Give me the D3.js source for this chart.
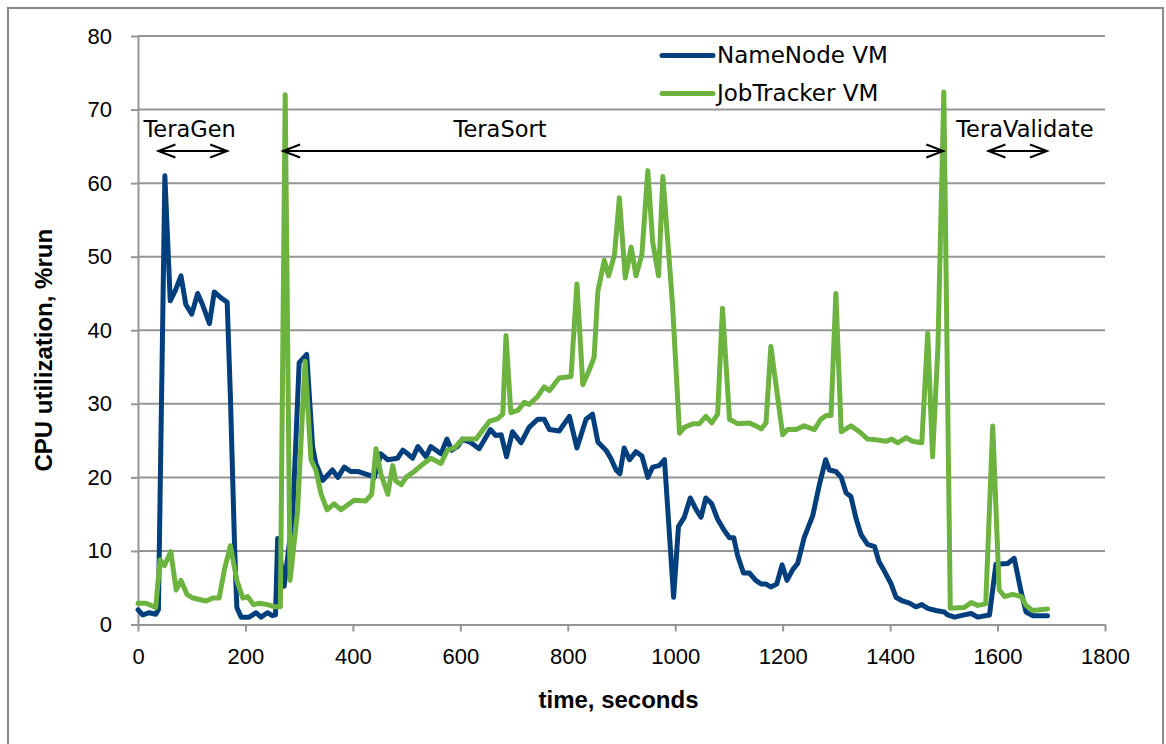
<!DOCTYPE html>
<html>
<head>
<meta charset="utf-8">
<script src="https://cdn.jsdelivr.net/npm/d3@7"></script>
<style>
  body { margin: 0; background: #fff; }
  svg { display: block; }
</style>
</head>
<body>
<svg id="chart" width="1166" height="744"></svg>
<script>
// data: [seconds, cpu %]
var nameNode = [
  [0,2.0],[9,1.3],[21,1.6],[33,1.4],[38,2],[50,61],[60,44],[70,45.5],[80,47.4],[89,43.5],
  [100,42.2],[111,45],[120,43.5],[133,40.9],[142,45.2],[153,44.5],[166,43.8],[172,31],[180,10],[184,2.3],
  [192,1.0],[207,1.0],[220,1.6],[229,1.0],[241,1.6],[250,1.2],[256,1.3],[260,11.7],[272,5.2],[288,14.8],
  [300,35.6],[314,36.7],[325,24.2],[331,21.9],[344,19.6],[362,21],[372,20],[384,21.4],[396,20.8],[409,20.8],
  [430,20.3],[440,20],[452,23.2],[465,22.4],[483,22.6],[493,23.7],[502,23.2],[511,22.6],[521,24.2],[536,22.8],
  [545,24.2],[564,23.2],[575,25.2],[584,23.7],[595,24.2],[604,25.2],[620,24.7],[635,23.9],[656,26.5],[666,25.7],
  [676,25.8],[686,22.8],[697,26.2],[713,24.7],[728,26.8],[744,27.9],[756,27.9],[766,26.5],[784,26.3],[803,28.3],
  [817,24],[834,27.9],[846,28.6],[856,24.8],[871,23.7],[880,22.6],[890,21],[897,20.5],[905,24],[915,22.4],
  [927,23.5],[938,22.9],[949,20],[958,21.4],[970,21.6],[980,22.4],[997,3.7],[1006,13.3],[1017,14.6],[1028,17.2],
  [1039,15.6],[1048,14.6],[1057,17.2],[1068,16.4],[1079,14.3],[1091,12.8],[1101,11.8],[1109,11.8],[1116,9.4],[1127,7.0],
  [1138,7.0],[1150,6],[1160,5.5],[1169,5.5],[1178,5.1],[1189,5.5],[1199,8.1],[1208,6],[1219,7.5],[1228,8.3],
  [1240,11.8],[1256,14.8],[1268,18.9],[1280,22.4],[1287,21],[1299,20.8],[1309,20],[1318,17.9],[1327,17.4],[1337,14.3],
  [1346,12.2],[1358,10.9],[1371,10.6],[1379,8.6],[1389,7.3],[1402,5.5],[1411,3.7],[1423,3.2],[1436,2.9],[1448,2.4],
  [1459,2.7],[1470,2.2],[1485,1.9],[1501,1.7],[1507,1.3],[1520,1.0],[1538,1.3],[1551,1.5],[1563,1.0],[1585,1.3],
  [1597,8.2],[1619,8.3],[1631,9.0],[1644,4.4],[1653,1.7],[1665,1.2],[1693,1.2]
];

var jobTracker = [
  [0,2.9],[15,2.9],[33,2.3],[41,8.8],[49,8],[61,9.9],[71,4.7],[80,6],[91,4.1],[102,3.6],
  [114,3.4],[127,3.2],[139,3.6],[151,3.6],[161,7.5],[172,10.7],[184,6],[195,3.6],[204,3.8],[215,2.7],
  [226,2.9],[241,2.7],[255,2.4],[265,2.4],[274,72],[283,6],[297,15.4],[311,35.8],[322,22.4],[331,21],
  [341,17.7],[352,15.6],[365,16.4],[378,15.6],[402,16.9],[424,16.8],[435,17.7],[443,23.9],[452,20.5],[465,17.7],
  [474,21.6],[480,19.5],[490,19],[499,20],[514,20.8],[527,21.6],[545,22.6],[564,21.9],[576,23.7],[589,24],
  [604,25.2],[629,25.2],[654,27.6],[670,28],[679,28.6],[685,39.3],[694,28.8],[707,29.1],[719,30.2],[728,29.9],
  [744,31],[756,32.3],[766,31.8],[784,33.5],[806,33.7],[817,46.3],[828,32.6],[840,34.6],[849,36.3],[856,45.3],
  [868,49.5],[876,47.4],[887,50.3],[896,58],[907,47.1],[918,51.3],[927,47.4],[938,50.3],[949,61.7],[958,52],
  [969,47.4],[977,60.9],[995,43.5],[1008,26],[1017,26.8],[1033,27.3],[1045,27.3],[1057,28.3],[1068,27.4],[1079,28.6],
  [1088,43],[1101,27.9],[1116,27.3],[1138,27.4],[1150,27],[1160,26.6],[1169,27.4],[1178,37.8],[1200,25.8],[1209,26.5],
  [1225,26.5],[1240,27],[1259,26.5],[1271,27.9],[1281,28.4],[1290,28.4],[1299,45],[1309,26.2],[1327,27],[1343,26.2],
  [1358,25.2],[1375,25.1],[1392,24.9],[1403,25.2],[1414,24.7],[1430,25.4],[1442,24.9],[1459,24.7],[1470,39.6],[1479,22.8],
  [1489,37.7],[1500,72.4],[1512,2.2],[1538,2.3],[1551,3.0],[1563,2.6],[1578,2.8],[1591,27],[1603,4.7],[1613,3.8],
  [1628,4.1],[1644,3.8],[1653,2.6],[1665,1.9],[1693,2.1]
];

var seriesNames = ["NameNode VM", "JobTracker VM"];
var seriesColors = ["#023f7c", "#6cb33f"];

var xTickValues = [0, 200, 400, 600, 800, 1000, 1200, 1400, 1600, 1800];
var yTickValues = [0, 10, 20, 30, 40, 50, 60, 70, 80];

// phase annotations (seconds)
var phaseNames = ["TeraGen", "TeraSort", "TeraValidate"];
var phaseStart = [38, 270, 1583];
var phaseEnd = [166, 1499, 1692];
var phaseLabelAt = [96, 674, 1651];

var svg = d3.select("#chart"),
    margin = {left: 138, right: 61, top: 36, bottom: 119.5},
    width = +svg.attr("width"),
    height = +svg.attr("height");

var x = d3.scaleLinear().domain([0, 1800]).range([margin.left, width - margin.right]);
var y = d3.scaleLinear().domain([0, 80]).range([height - margin.bottom, margin.top]);

var gray = "#959595";

// outer frame
svg.append("rect")
    .attr("x", 8).attr("y", 8)
    .attr("width", 1155).attr("height", 760)
    .attr("fill", "none").attr("stroke", "#8a8a8a").attr("stroke-width", 2);

// gridlines
svg.append("g")
  .selectAll("line")
  .data(yTickValues.slice(1))
  .enter().append("line")
    .attr("x1", x(0)).attr("x2", x(1800))
    .attr("y1", function(d){ return y(d); })
    .attr("y2", function(d){ return y(d); })
    .attr("stroke", gray).attr("stroke-width", 2);

var tickFont = "'Liberation Sans', Arial, sans-serif";

// axes
var xAxis = svg.append("g")
    .attr("transform", "translate(0," + y(0) + ")")
    .call(d3.axisBottom(x).tickValues(xTickValues).tickFormat(d3.format("d"))
      .tickSize(7).tickPadding(17).tickSizeOuter(0));
var yAxis = svg.append("g")
    .attr("transform", "translate(" + x(0) + ",0)")
    .call(d3.axisLeft(y).tickValues(yTickValues).tickSize(7).tickPadding(19).tickSizeOuter(0));

[xAxis, yAxis].forEach(function(g){
  g.select(".domain").attr("stroke", gray).attr("stroke-width", 2);
  g.selectAll(".tick line").attr("stroke", gray).attr("stroke-width", 2);
  g.selectAll(".tick text")
    .attr("fill", "#000")
    .style("font-family", tickFont)
    .style("font-size", "22px");
});

// axis titles
svg.append("text")
    .attr("x", (x(0) + x(1800)) / 2 - 3)
    .attr("y", 708)
    .attr("text-anchor", "middle")
    .style("font-family", tickFont)
    .style("font-size", "24px")
    .style("font-weight", "bold")
    .text("time, seconds");

svg.append("text")
    .attr("transform", "translate(52," + ((y(0) + y(80)) / 2 + 20) + ") rotate(-90)")
    .attr("text-anchor", "middle")
    .style("font-family", tickFont)
    .style("font-size", "24px")
    .style("font-weight", "bold")
    .text("CPU utilization, %run");

// lines
var line = d3.line()
    .x(function(d){ return x(d[0]); })
    .y(function(d){ return y(d[1]); });

[nameNode, jobTracker].forEach(function(s, i){
  svg.append("path")
      .datum(s)
      .attr("d", line)
      .attr("fill", "none")
      .attr("stroke", seriesColors[i])
      .attr("stroke-width", 5)
      .attr("stroke-linejoin", "round")
      .attr("stroke-linecap", "round");
});

// legend
var legend = svg.append("g");
seriesNames.forEach(function(name, i){
  var ly = 55.5 + i * 38;
  legend.append("line")
      .attr("x1", 662).attr("x2", 713)
      .attr("y1", ly).attr("y2", ly)
      .attr("stroke", seriesColors[i]).attr("stroke-width", 5)
      .attr("stroke-linecap", "round");
  legend.append("text")
      .attr("x", 717).attr("y", ly + 7.5)
      .style("font-family", "'DejaVu Sans', Verdana, sans-serif")
      .style("font-size", "23px")
      .text(name);
});

// phase annotations
var arrowY = 151;
var ann = svg.append("g");
phaseNames.forEach(function(name, i){
  var x1 = x(phaseStart[i]), x2 = x(phaseEnd[i]);
  ann.append("line")
      .attr("x1", x1).attr("x2", x2)
      .attr("y1", arrowY).attr("y2", arrowY)
      .attr("stroke", "#000").attr("stroke-width", 2);
  ann.append("path")
      .attr("d", "M" + (x1 + 17) + "," + (arrowY - 6.5) + "L" + x1 + "," + arrowY + "L" + (x1 + 17) + "," + (arrowY + 6.5))
      .attr("fill", "none").attr("stroke", "#000").attr("stroke-width", 2);
  ann.append("path")
      .attr("d", "M" + (x2 - 17) + "," + (arrowY - 6.5) + "L" + x2 + "," + arrowY + "L" + (x2 - 17) + "," + (arrowY + 6.5))
      .attr("fill", "none").attr("stroke", "#000").attr("stroke-width", 2);
  ann.append("text")
      .attr("x", x(phaseLabelAt[i]))
      .attr("y", 136.5)
      .attr("text-anchor", "middle")
      .style("font-family", "'DejaVu Sans', Verdana, sans-serif")
      .style("font-size", "22.5px")
      .text(name);
});
</script>
</body>
</html>
